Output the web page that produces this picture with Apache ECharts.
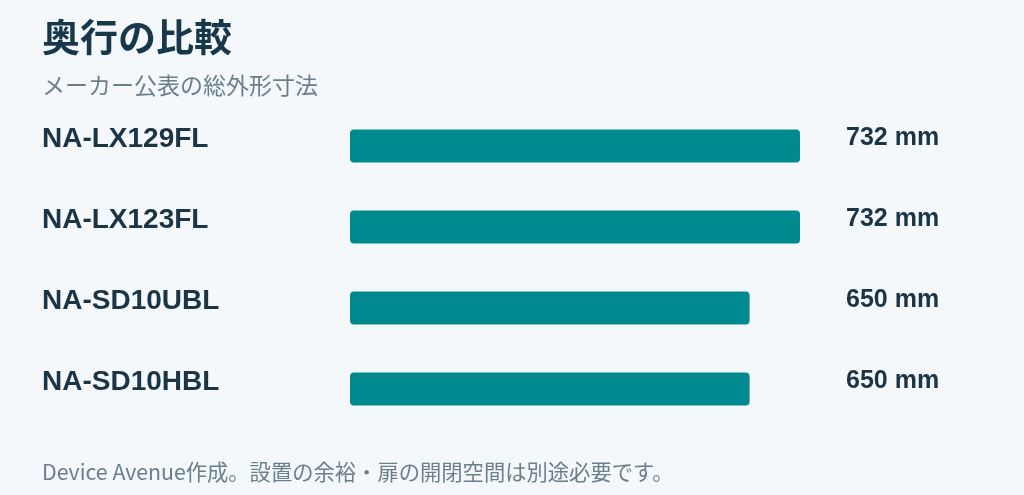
<!DOCTYPE html>
<html><head><meta charset="utf-8">
<script src="https://cdn.jsdelivr.net/npm/echarts@6/dist/echarts.min.js"></script>
<style>html,body{margin:0;padding:0;background:#f4f8fa;}#c{width:1024px;height:495px;}</style>
</head><body><div id="c"></div>
<script>
const categories = ['NA-LX129FL', 'NA-LX123FL', 'NA-SD10UBL', 'NA-SD10HBL'];
const depths = [732, 732, 650, 650];
const unit = 'mm';
const titleText = '奥行の比較';
const subtitleText = 'メーカー公表の総外形寸法';
const footerText = 'Device Avenue作成。設置の余裕・扉の開閉空間は別途必要です。';

const chart = echarts.init(document.getElementById('c'));
const font = "'Liberation Sans', Arial, 'Noto Sans CJK JP', sans-serif";
const cjk = "'Noto Sans CJK JP', sans-serif";
chart.setOption({
  backgroundColor: '#f4f8fa',
  animation: false,
  title: [
    { text: titleText, left: 37, top: 13, textStyle: { fontSize: 38, fontWeight: 'bold', color: '#17384a', fontFamily: cjk } },
    { text: subtitleText, left: 37, top: 69, textStyle: { fontSize: 23, fontWeight: 'normal', color: '#6b7f8b', fontFamily: cjk } },
    { text: footerText, left: 37, top: 456, textStyle: { fontSize: 21.3, fontWeight: 'normal', color: '#6b7f8b', fontFamily: cjk } }
  ],
  grid: { left: 350, right: 224, top: 105.5, height: 324, containLabel: false },
  xAxis: { type: 'value', min: 0, max: 732, show: false },
  yAxis: [
    {
      type: 'category', data: categories, inverse: true,
      axisLine: { show: false }, axisTick: { show: false }, splitLine: { show: false },
      axisLabel: { align: 'left', verticalAlign: 'bottom', lineHeight: 13, margin: 308, fontSize: 28, fontWeight: 'bold', color: '#1b3446', fontFamily: font }
    },
    {
      type: 'category', data: depths.map(v => v + ' ' + unit), inverse: true, position: 'right',
      axisLine: { show: false }, axisTick: { show: false }, splitLine: { show: false },
      axisLabel: { align: 'left', verticalAlign: 'bottom', lineHeight: 16, margin: 46, fontSize: 25, fontWeight: 'bold', color: '#1b3446', fontFamily: font }
    }
  ],
  series: [{
    type: 'bar', data: depths, barWidth: 33, yAxisIndex: 0,
    itemStyle: { color: '#00898f', borderRadius: 4 }
  }]
});
</script></body></html>
